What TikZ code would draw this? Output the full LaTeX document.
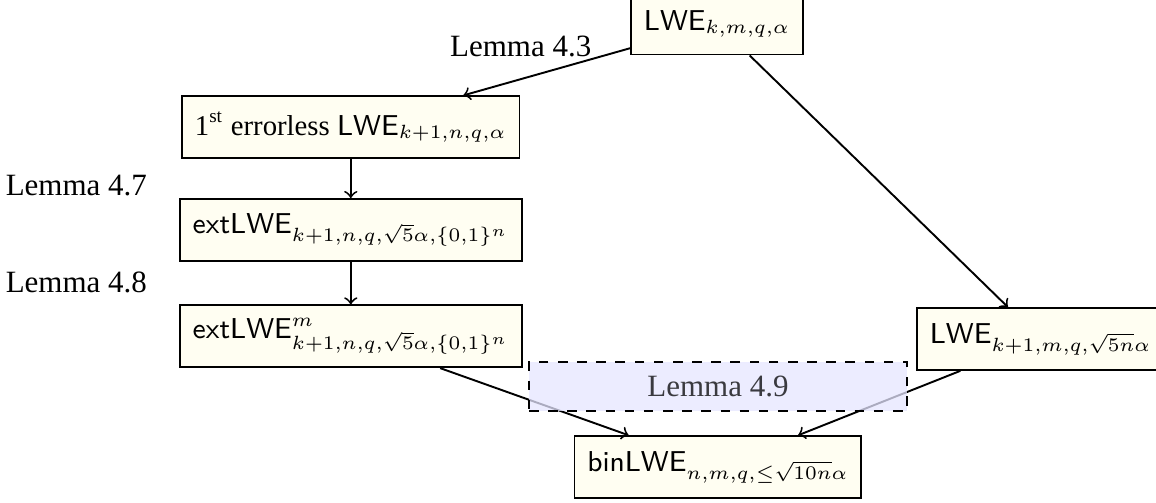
\documentclass[tikz,border=0pt]{standalone}
\usepackage{fontspec}
\setmainfont{Liberation Serif}
\tikzset{
	prob/.style={draw,semithick,fill=yellow!5,inner sep=4pt,minimum height=0.68cm,font=\fontsize{9}{11}\selectfont},
	probwide/.style={prob,minimum width=3.65cm},
	lemmabox/.style={draw,dashed,semithick,fill=blue!10,fill opacity=0.75,text opacity=0.75,minimum width=4.16cm,minimum height=0.54cm},
}
\begin{document}
\begin{tikzpicture}[>=to,font=\fontsize{9.7}{12}\selectfont]
		\useasboundingbox (0,0) rectangle (12.72,5.53);
		%
		\node[prob] (lwe) at (7.89,5.27) {$\mathsf{LWE}_{k,m,q,\alpha}$};
		\node[probwide] (err) at (3.86,4.13) {1\textsuperscript{st} errorless $\mathsf{LWE}_{k+1,n,q,\alpha}$};
		\node[probwide] (ext) at (3.86,3.00) {$\mathsf{extLWE}_{k+1,n,q,\sqrt{5}\alpha,\{0,1\}^n}$};
		\node[probwide] (extm) at (3.86,1.83) {$\mathsf{extLWE}^m_{k+1,n,q,\sqrt{5}\alpha,\{0,1\}^n}$};
		\node[prob] (lwen) at (11.45,1.80) {$\mathsf{LWE}_{k+1,m,q,\sqrt{5n}\alpha}$};
		\node[prob] (bin) at (7.90,0.39) {$\mathsf{binLWE}_{n,m,q,\leq\sqrt{10n}\alpha}$};
		%
		\node (l43) at (5.73,5.02) {Lemma 4.3};
		\node (l47) at (0.84,3.49) {Lemma 4.7};
		\node (l48) at (0.84,2.42) {Lemma 4.8};
		%
		\draw[->,semithick] (lwe) -- (err);
		\draw[->,semithick] (lwe) -- (lwen);
		\draw[->,semithick] (err) -- (ext);
		\draw[->,semithick] (ext) -- (extm);
		\draw[->,semithick] (extm) -- (bin);
		\draw[->,semithick] (lwen) -- (bin);
		%
		\node[lemmabox] (l49) at (7.90,1.28) {Lemma 4.9}; % drawn over the arrows
\end{tikzpicture}
\end{document}
